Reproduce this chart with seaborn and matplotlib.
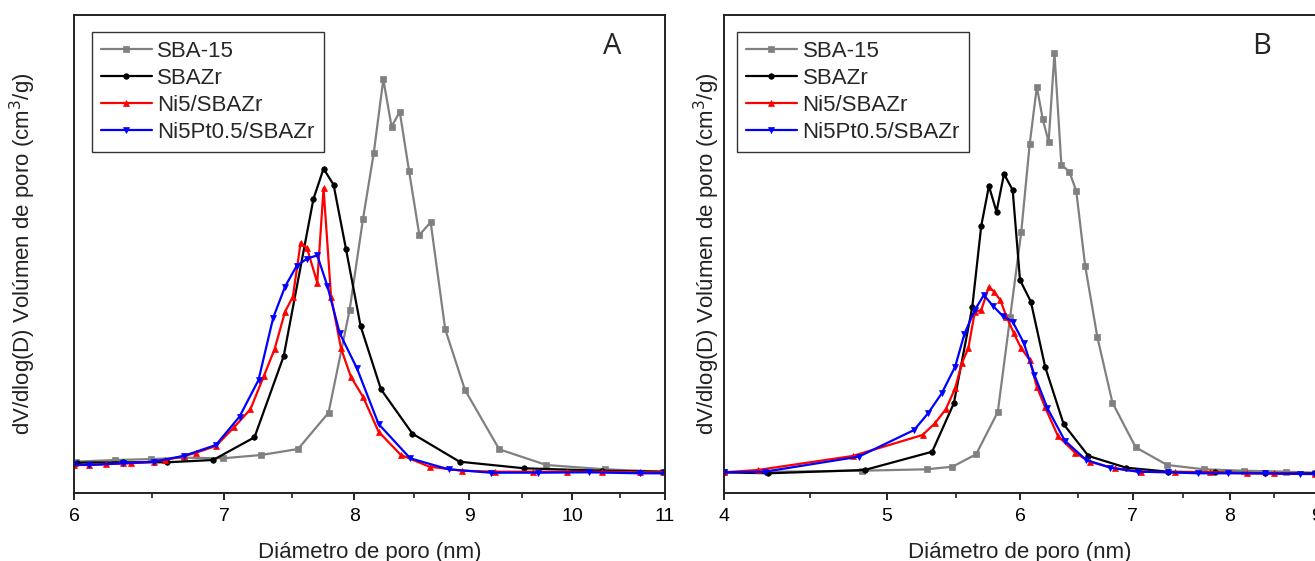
import seaborn as sns
import matplotlib.pyplot as plt
from matplotlib.ticker import FixedLocator, FixedFormatter, NullFormatter

# Pore size distributions, dV/dlog(D) (arbitrary units)
names = ["SBA-15", "SBAZr", "Ni5/SBAZr", "Ni5Pt0.5/SBAZr"]
colors = ["#808080", "black", "red", "blue"]
markers = ["s", "o", "^", "v"]

# Panel A
sba15_A_d = [6.01, 6.26, 6.49, 6.72, 6.99, 7.27, 7.55, 7.79, 7.96, 8.07, 8.16, 8.24, 8.31, 8.38,
             8.46, 8.55, 8.65, 8.78, 8.96, 9.28, 9.74, 10.34, 10.98]
sba15_A_v = [0.313, 0.330, 0.339, 0.353, 0.347, 0.380, 0.440, 0.803, 1.830, 2.740, 3.403, 4.137,
             3.663, 3.813, 3.223, 2.580, 2.707, 1.637, 1.030, 0.437, 0.280, 0.237, 0.213]
sbazr_A_d = [6.02, 6.31, 6.60, 6.92, 7.22, 7.44, 7.67, 7.75, 7.83, 7.93, 8.05, 8.22, 8.49, 8.91,
             9.52, 10.31, 10.98]
sbazr_A_v = [0.303, 0.307, 0.307, 0.330, 0.557, 1.370, 2.940, 3.243, 3.083, 2.443, 1.670, 1.037,
             0.593, 0.313, 0.247, 0.223, 0.213]
ni5_A_d = [6.00, 6.09, 6.20, 6.31, 6.36, 6.51, 6.59, 6.72, 6.80, 6.94, 7.07, 7.19, 7.29, 7.37,
           7.45, 7.51, 7.57, 7.62, 7.70, 7.75, 7.81, 7.89, 7.97, 8.07, 8.20, 8.39, 8.64, 8.93,
           9.24, 9.61, 9.95, 10.31, 10.72, 11.0]
ni5_A_v = [0.280, 0.280, 0.287, 0.297, 0.297, 0.313, 0.330, 0.370, 0.403, 0.470, 0.657, 0.837,
           1.170, 1.437, 1.813, 1.963, 2.503, 2.447, 2.103, 3.047, 1.963, 1.447, 1.163, 0.963,
           0.613, 0.380, 0.263, 0.223, 0.213, 0.213, 0.213, 0.213, 0.207, 0.207]
ni5pt_A_d = [6.00, 6.09, 6.31, 6.51, 6.72, 6.94, 7.11, 7.25, 7.36, 7.45, 7.54, 7.62, 7.70, 7.78,
             7.88, 8.02, 8.20, 8.47, 8.81, 9.20, 9.66, 10.17, 10.72, 11.0]
ni5pt_A_v = [0.287, 0.280, 0.297, 0.313, 0.373, 0.480, 0.763, 1.130, 1.753, 2.063, 2.273, 2.343,
             2.377, 2.073, 1.597, 1.247, 0.690, 0.347, 0.237, 0.203, 0.203, 0.207, 0.197, 0.197]

# Panel B
sba15_B_d = [4.00, 4.83, 5.28, 5.47, 5.65, 5.82, 5.92, 6.01, 6.08, 6.14, 6.19, 6.24, 6.29, 6.35,
             6.42, 6.48, 6.56, 6.67, 6.81, 7.03, 7.34, 7.72, 8.15, 8.64, 8.99]
sba15_B_v = [0.207, 0.223, 0.237, 0.263, 0.387, 0.810, 1.763, 2.607, 3.487, 4.063, 3.737, 3.513,
             4.397, 3.280, 3.213, 3.023, 2.273, 1.563, 0.903, 0.457, 0.280, 0.237, 0.223, 0.213,
             0.203]
sbazr_B_d = [4.00, 4.25, 4.85, 5.32, 5.48, 5.62, 5.69, 5.75, 5.81, 5.87, 5.94, 6.00, 6.09, 6.21,
             6.37, 6.59, 6.94, 7.35, 7.84, 8.39, 8.99]
sbazr_B_v = [0.207, 0.197, 0.230, 0.413, 0.897, 1.857, 2.673, 3.070, 2.813, 3.190, 3.030, 2.130,
             1.913, 1.263, 0.687, 0.370, 0.253, 0.213, 0.207, 0.197, 0.197]
ni5_B_d = [4.00, 4.19, 4.77, 5.25, 5.34, 5.42, 5.49, 5.54, 5.59, 5.64, 5.69, 5.75, 5.79, 5.84,
           5.89, 5.95, 6.01, 6.08, 6.14, 6.21, 6.32, 6.47, 6.60, 6.83, 7.08, 7.42, 7.78, 8.19,
           8.50, 8.99]
ni5_B_v = [0.207, 0.230, 0.370, 0.580, 0.697, 0.837, 1.047, 1.297, 1.447, 1.813, 1.830, 2.063,
           2.013, 1.930, 1.763, 1.597, 1.447, 1.330, 1.063, 0.857, 0.570, 0.403, 0.313, 0.247,
           0.213, 0.207, 0.207, 0.197, 0.197, 0.190]
ni5pt_B_d = [4.00, 4.23, 4.81, 5.19, 5.29, 5.39, 5.49, 5.56, 5.64, 5.71, 5.78, 5.86, 5.94, 6.03,
             6.12, 6.23, 6.38, 6.57, 6.79, 7.05, 7.35, 7.66, 7.98, 8.39, 8.81, 8.99]
ni5pt_B_v = [0.207, 0.213, 0.363, 0.630, 0.797, 0.997, 1.263, 1.590, 1.830, 1.980, 1.873, 1.770,
             1.713, 1.503, 1.180, 0.847, 0.523, 0.330, 0.253, 0.213, 0.207, 0.197, 0.197, 0.197,
             0.190, 0.190]

ticks_A = [6, 7, 8, 9, 10, 11]
minor_A = [6.5, 7.5, 8.5, 9.5, 10.5]
ticks_B = [4, 5, 6, 7, 8, 9]
minor_B = [4.5, 5.5, 6.5, 7.5, 8.5]

sns.set_style("ticks")
plt.rcParams['font.family'] = ['Liberation Sans', 'DejaVu Sans']
plt.rcParams['axes.linewidth'] = 1.4
plt.rcParams['axes.edgecolor'] = '#222222'

fig = plt.figure(figsize=(13.15, 5.61), dpi=100)
axA = fig.add_axes([74 / 1315, 68 / 561, 591 / 1315, 478 / 561])
axB = fig.add_axes([724 / 1315, 68 / 561, 592 / 1315, 478 / 561])


def panel(ax, series, xlim, ticks, minor, letter, letter_x, leg_x, ylab_x):
    for (d, v), name, c, m in zip(series, names, colors, markers):
        ms = 5 if m in "^v" else 4
        sns.lineplot(x=d, y=v, ax=ax, color=c, marker=m, markersize=ms,
                     markeredgecolor=c, markeredgewidth=0.5, linewidth=1.6,
                     sort=False, estimator=None, label=name)
    ax.set_xscale('log')
    ax.set_xlim(*xlim)
    ax.set_ylim(0, 4.78)
    ax.xaxis.set_major_locator(FixedLocator(ticks))
    ax.xaxis.set_major_formatter(FixedFormatter([str(t) for t in ticks]))
    ax.xaxis.set_minor_locator(FixedLocator(minor))
    ax.xaxis.set_minor_formatter(NullFormatter())
    ax.tick_params(axis='x', which='major', length=5, width=1.4, labelsize=14, pad=6,
                   colors='#222222', labelcolor='black')
    ax.tick_params(axis='x', which='minor', length=3.5, width=1.2, colors='#222222')
    ax.set_yticks([])
    ax.set_xlabel("Diámetro de poro (nm)", fontsize=16, color='#222222')
    ax.xaxis.set_label_coords(0.5, -0.1025)
    ax.set_ylabel("dV/dlog(D) Volúmen de poro (cm$^3$/g)", fontsize=16, color='#222222')
    ax.yaxis.set_label_coords(ylab_x, 0.5)
    ax.text(letter_x, 0.935, letter, transform=ax.transAxes, fontsize=21,
            ha='center', va='center', family=['Open Sans', 'DejaVu Sans'])
    leg = ax.legend(loc='upper left', bbox_to_anchor=(leg_x, 0.965), fontsize=16,
                    frameon=True, fancybox=False, framealpha=1, edgecolor='#333333',
                    borderpad=0.4, labelspacing=0.27, handlelength=2.3,
                    handletextpad=0.25, borderaxespad=0)
    leg.get_frame().set_linewidth(1.0)


panel(axA, [(sba15_A_d, sba15_A_v), (sbazr_A_d, sbazr_A_v), (ni5_A_d, ni5_A_v),
            (ni5pt_A_d, ni5pt_A_v)], (6, 11), ticks_A, minor_A, "A", 0.91, 0.03, -0.061)
panel(axB, [(sba15_B_d, sba15_B_v), (sbazr_B_d, sbazr_B_v), (ni5_B_d, ni5_B_v),
            (ni5pt_B_d, ni5pt_B_v)], (4, 9), ticks_B, minor_B, "B", 0.908, 0.022, -0.004)

fig.savefig("out.png", dpi=100)
